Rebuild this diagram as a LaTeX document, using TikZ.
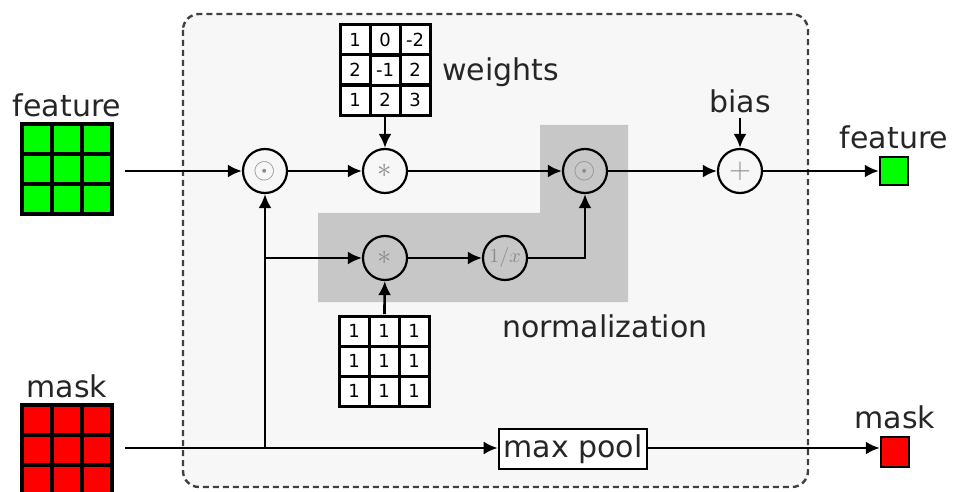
\documentclass[tikz,border=0pt]{standalone}
\usepackage{fontspec}
\setmainfont{DejaVu Sans}
\usetikzlibrary{arrows.meta,matrix,positioning}
\begin{document}
\begin{tikzpicture}[x=0.5pt,y=-0.5pt,
  >={Latex[length=7pt,width=6.5pt]},
  conn/.style={line width=1.3pt,->},
  line/.style={line width=1.3pt},
  op/.style={circle,draw,line width=1.1pt,minimum size=22pt,inner sep=0pt,text=black!45,font=\Large},
  lbl/.style={font=\fontsize{15}{15}\selectfont,text=black!85,inner sep=0pt},
  cgrid/.style={matrix of nodes,inner sep=0pt,
     nodes={draw,line width=1.6pt,minimum size=15pt,inner sep=0pt,fill=#1},
     column sep=-1.6pt,row sep=-1.6pt},
  ngrid/.style={matrix of nodes,inner sep=0pt,
     nodes={draw,line width=1.5pt,minimum size=15pt,inner sep=0pt,fill=white,font=\fontsize{9}{9}\selectfont},
     column sep=-1.5pt,row sep=-1.5pt}
]
\useasboundingbox (0,0) rectangle (954,492);
% outer dotted box
\draw[densely dashed,line width=1.2pt,draw=black!75,fill=black!3,rounded corners=8pt] (183,14) rectangle (808,487);
% normalization region
\fill[black!22] (318,213) -- (540,213) -- (540,125) -- (628,125) -- (628,302) -- (318,302) -- cycle;

% input grids
\matrix (fin) [cgrid=green] at (67,169) {
 {} & {} & {} \\ {} & {} & {} \\ {} & {} & {} \\};
\node[lbl,above=2.5pt of fin] {feature};
\matrix (min) [cgrid=red] at (67,450) {
 {} & {} & {} \\ {} & {} & {} \\ {} & {} & {} \\};
\node[lbl,above=2.5pt of min] {mask};

% weight grids
\matrix (w) [ngrid] at (385,70) {
 1 & 0 & -2 \\ 2 & -1 & 2 \\ 1 & 2 & 3 \\};
\node[lbl,anchor=west] at (442,72) {weights};
\matrix (ones) [ngrid] at (384,361) {
 1 & 1 & 1 \\ 1 & 1 & 1 \\ 1 & 1 & 1 \\};
\node[lbl] at (605,326) {normalization};

% operators
\node[op] (c1) at (265,171) {$\odot$};
\node[op] (c2) at (385,171) {$\ast$};
\node[op] (c3) at (585,171) {$\odot$};
\node[op] (c4) at (740,171) {$+$};
\node[op] (c5) at (385,258) {$\ast$};
\node[op,font=\normalsize] (c6) at (505,258) {$1/x$};
\node[lbl] (bias) at (740,101) {bias};
\coordinate (biasend) at (740,118);

\node[draw,line width=1.3pt,fill=white,minimum width=74pt,minimum height=20pt,inner sep=0pt,font=\fontsize{15}{15}\selectfont,text=black!85] (mp) at (573,449) {max pool};

% outputs
\node[draw,line width=1.2pt,fill=green,minimum size=14pt,inner sep=0pt] (fout) at (894,171) {};
\node[lbl,above=3pt of fout] {feature};
\node[draw,line width=1.2pt,fill=red,minimum width=14pt,minimum height=15pt,inner sep=0pt] (mout) at (895,452) {};
\node[lbl,above=3pt of mout] {mask};

% connectors
\coordinate (fstart) at (125,171);
\coordinate (mstart) at (125,448);
\coordinate (br) at (265,448);
\draw[conn] (fstart) -- (c1);
\draw[conn] (c1) -- (c2);
\draw[conn] (w) -- (c2);
\draw[conn] (c2) -- (c3);
\draw[conn] (c3) -- (c4);
\draw[conn] (biasend) -- (c4);
\draw[conn] (c4) -- (fout);
\draw[line] (mstart) -- (br);
\draw[conn] (br) -- (c1);
\draw[conn] (br |- c5) -- (c5);
\draw[conn] (c5) -- (c6);
\draw[conn] (ones) -- (c5);
\draw[conn] (c6) -| (c3);
\draw[conn] (br) -- (br -| mp.west);
\draw[conn] (br -| mp.east) -- (br -| mout.west);
\end{tikzpicture}
\end{document}
